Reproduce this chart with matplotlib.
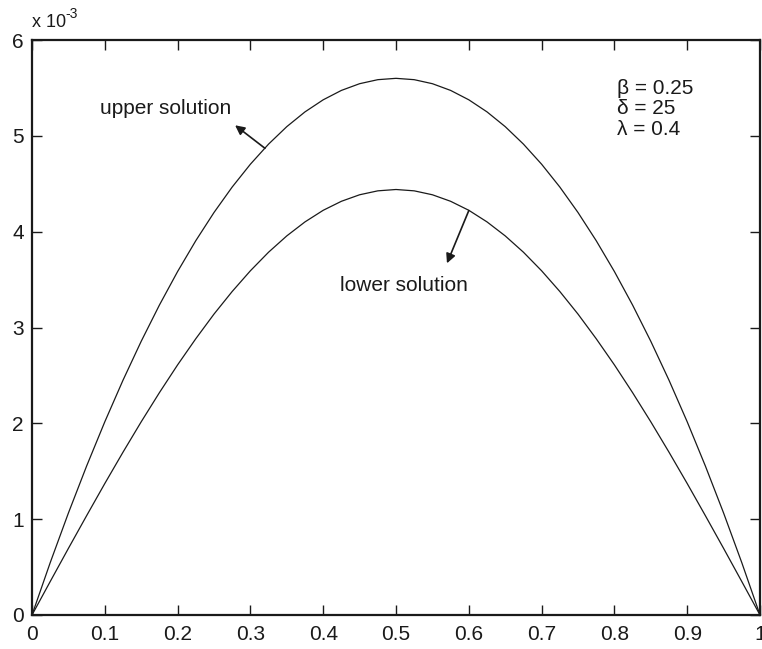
import numpy as np
import matplotlib
matplotlib.use('Agg')
import matplotlib.pyplot as plt

# values (y in units of 1e-3)
x = [0.0, 0.025, 0.05, 0.075, 0.1, 0.125, 0.15, 0.175, 0.2, 0.225, 0.25,
     0.275, 0.3, 0.325, 0.35, 0.375, 0.4, 0.425, 0.45, 0.475, 0.5,
     0.525, 0.55, 0.575, 0.6, 0.625, 0.65, 0.675, 0.7, 0.725, 0.75,
     0.775, 0.8, 0.825, 0.85, 0.875, 0.9, 0.925, 0.95, 0.975, 1.0]
upper_half = [0.0, 0.546, 1.064, 1.554, 2.016, 2.450, 2.856, 3.234, 3.584, 3.906, 4.200,
              4.466, 4.704, 4.914, 5.096, 5.250, 5.376, 5.474, 5.544, 5.586, 5.600]
lower_half = [0.0, 0.349, 0.695, 1.036, 1.372, 1.699, 2.016, 2.320, 2.610, 2.883, 3.140,
              3.376, 3.592, 3.786, 3.956, 4.102, 4.223, 4.317, 4.385, 4.426, 4.440]
upper = upper_half + upper_half[-2::-1]
lower = lower_half + lower_half[-2::-1]

params = ['\u03b2 = 0.25', '\u03b4 = 25', '\u03bb = 0.4']
xticks = [0, 0.1, 0.2, 0.3, 0.4, 0.5, 0.6, 0.7, 0.8, 0.9, 1]
xticklabels = ['0', '0.1', '0.2', '0.3', '0.4', '0.5', '0.6', '0.7', '0.8', '0.9', '1']
yticks = [0, 1, 2, 3, 4, 5, 6]

plt.rcParams['font.family'] = ['Liberation Sans', 'DejaVu Sans']
ink = '#1a1a1a'

fig = plt.figure(figsize=(7.62, 6.49), dpi=100)
ax = fig.add_axes([32/762, 34/649, 728/762, 575/649])

x = np.array(x)
ax.plot(x, np.array(upper) * 1e-3, color=ink, lw=0.9)
ax.plot(x, np.array(lower) * 1e-3, color=ink, lw=0.9)

ax.set_xlim(0, 1)
ax.set_ylim(0, 6e-3)
ax.set_xticks(xticks)
ax.set_xticklabels(xticklabels)
ax.set_yticks([v * 1e-3 for v in yticks])
ax.set_yticklabels([str(v) for v in yticks])
ax.tick_params(direction='in', length=7, width=1, top=True, right=True,
               labelsize=15, colors=ink)
ax.tick_params(axis='x', pad=7)
ax.tick_params(axis='y', pad=6)
for s in ax.spines.values():
    s.set_linewidth(1.6)
    s.set_color(ink)

# exponent label at top left
fig.text(32/762, 1 - 27/649, 'x 10', fontsize=13, color=ink, va='baseline', ha='left')
fig.text(65/762, 1 - 18/649, '-3', fontsize=10, color=ink, va='baseline', ha='left')

# annotations
ax.annotate('', xy=(0.279, 5.11e-3), xytext=(0.32, 4.87e-3),
            arrowprops=dict(arrowstyle='-|>', color=ink, lw=1.2,
                            mutation_scale=14, shrinkA=0, shrinkB=0))
ax.text(0.093, 5.23e-3, 'upper solution', fontsize=15, color=ink, va='baseline')

ax.annotate('', xy=(0.570, 3.67e-3), xytext=(0.60, 4.22e-3),
            arrowprops=dict(arrowstyle='-|>', color=ink, lw=1.2,
                            mutation_scale=14, shrinkA=0, shrinkB=0))
ax.text(0.423, 3.385e-3, 'lower solution', fontsize=15, color=ink, va='baseline')

ys = [5.44e-3, 5.23e-3, 5.01e-3]
for p, yy in zip(params, ys):
    ax.text(0.804, yy, p, fontsize=15, color=ink, va='baseline')

plt.savefig('out.png', dpi=100)
